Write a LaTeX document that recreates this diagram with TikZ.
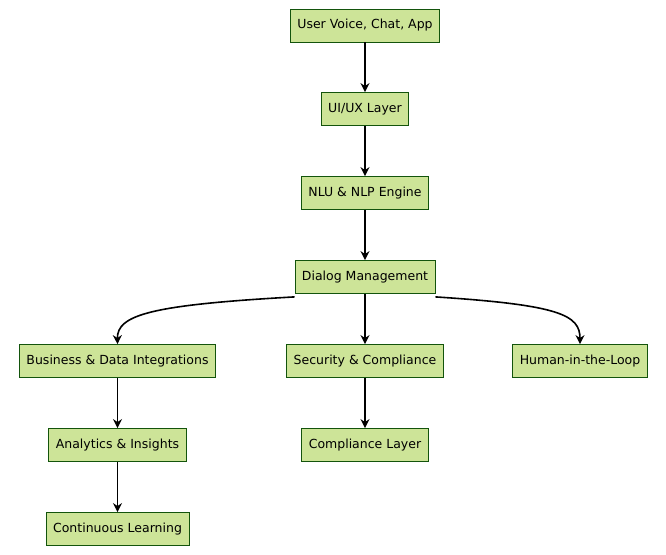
\documentclass[tikz,border=0pt]{standalone}
\usepackage{fontspec}
\setmainfont{DejaVu Sans}
\usetikzlibrary{positioning,arrows.meta}
\definecolor{boxfill}{HTML}{CDE498}
\definecolor{boxline}{HTML}{13540C}
\tikzstyle{block} = [rectangle, draw=boxline, fill=boxfill, line width=0.8pt, text centered, minimum height=33pt, inner xsep=7pt, font=\fontsize{12.5}{15}\selectfont]
\tikzstyle{connector} = [line width=1.6pt, -{Stealth[length=9pt,width=9pt]}, black]

\begin{document}
\begin{tikzpicture}[x=1pt,y=-1pt]
            \useasboundingbox (0,0) rectangle (666,554);
            \node (user) [block] at (365,25.5) {User Voice, Chat, App};
            \node (ui) [block] at (365,109) {UI/UX Layer};
            \node (nlu) [block] at (365,193) {NLU \& NLP Engine};
            \node (dlg) [block] at (365,277) {Dialog Management};
            \node (biz) [block] at (117.5,361) {Business \& Data Integrations};
            \node (sec) [block] at (365,361) {Security \& Compliance};
            \node (hitl) [block] at (580,361) {Human-in-the-Loop};
            \node (ana) [block] at (117.5,445) {Analytics \& Insights};
            \node (comp) [block] at (365,445) {Compliance Layer};
            \node (learn) [block] at (117.5,529) {Continuous Learning};
            \draw [connector] (user) -- (ui);
            \draw [connector] (ui) -- (nlu);
            \draw [connector] (nlu) -- (dlg);
            \draw [connector] ([yshift=-3pt]dlg.south west) .. controls (150,305) and (117,315) .. (biz.north);
            \draw [connector] (dlg) -- (sec);
            \draw [connector] ([yshift=-3pt]dlg.south east) .. controls (560,305) and (580,315) .. (hitl.north);
            \draw [connector] (biz) -- (ana);
            \draw [connector] (ana) -- (learn);
            \draw [connector] (sec) -- (comp);
        \end{tikzpicture}
\end{document}
